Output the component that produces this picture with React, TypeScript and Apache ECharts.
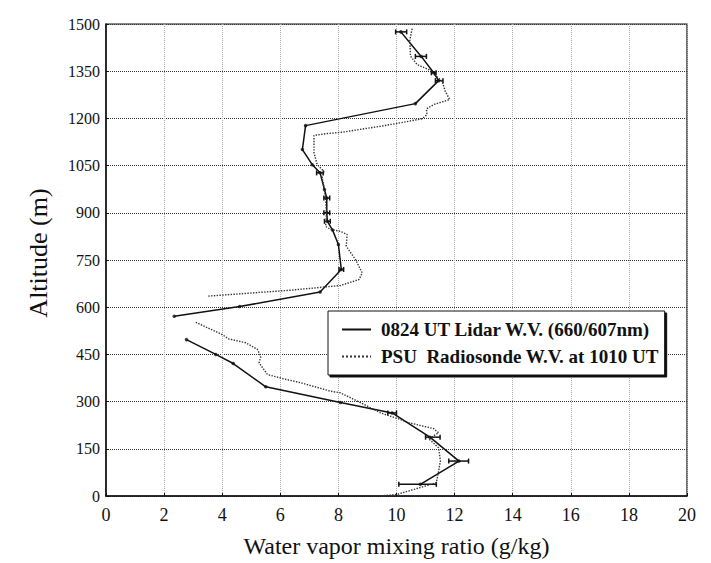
import React, { useEffect, useRef } from "react";
import * as echarts from "echarts";

// Lidar water vapour profile: [mixing ratio g/kg, altitude m]
const lidarUpper: number[][] = [
  [10.15, 1475], [10.85, 1397], [11.28, 1345], [11.45, 1320], [10.65, 1247],
  [6.87, 1177], [6.76, 1101], [7.1, 1053], [7.37, 1027], [7.52, 974],
  [7.6, 947], [7.6, 900], [7.62, 873], [7.8, 845], [8.0, 799], [8.1, 720],
  [7.37, 648], [4.6, 602], [2.35, 571],
];
const lidarLower: number[][] = [
  [2.77, 497], [3.78, 450], [4.38, 421], [5.5, 347], [8.07, 297],
  [9.85, 264], [11.15, 187], [12.15, 111], [10.82, 37],
];
// Lidar error bars: [low, high, altitude]
const lidarErrors: number[][] = [
  [9.97, 10.35, 1475], [10.65, 11.03, 1397], [11.2, 11.36, 1345], [11.34, 11.6, 1320],
  [7.25, 7.48, 1027], [7.5, 7.7, 947], [7.5, 7.7, 900], [7.52, 7.72, 873],
  [8.02, 8.18, 720], [9.7, 10.0, 264], [11.0, 11.5, 187], [11.8, 12.48, 111],
  [10.08, 11.37, 37],
];
// Radiosonde profile: [mixing ratio g/kg, altitude m]
const sondeUpper: number[][] = [
  [10.54, 1485], [10.46, 1451], [10.48, 1398], [10.71, 1371], [11.11, 1355],
  [11.57, 1318], [11.68, 1286], [11.83, 1260], [11.28, 1244], [11.03, 1230],
  [11.05, 1212], [10.88, 1199], [10.14, 1186], [9.45, 1175], [8.88, 1167],
  [8.13, 1156], [7.62, 1152], [7.16, 1146], [7.16, 1091], [7.27, 1053],
  [7.5, 1032], [7.44, 1011], [7.5, 984], [7.56, 942], [7.59, 900],
  [7.56, 857], [7.73, 847], [8.07, 841], [8.3, 831], [8.27, 794],
  [8.47, 767], [8.59, 751], [8.82, 709], [8.71, 688], [8.07, 669],
  [6.36, 654], [3.49, 635],
];
const sondeLower: number[][] = [
  [3.09, 552], [4.0, 513], [4.23, 499], [4.81, 487], [5.21, 466],
  [5.33, 444], [5.27, 423], [5.56, 386], [6.13, 372], [6.7, 360],
  [7.73, 333], [8.07, 328], [8.88, 291], [9.45, 264], [10.14, 243],
  [10.42, 233], [11.28, 214], [11.45, 201], [11.11, 182], [11.45, 153],
  [11.51, 111], [11.45, 79], [11.37, 42], [10.02, 5], [9.45, 0],
];

const LIDAR_NAME = "0824 UT Lidar W.V. (660/607nm)";
const SONDE_NAME = "PSU  Radiosonde W.V. at 1010 UT";
const FONT = "Liberation Serif";

export default function App() {
  const ref = useRef<HTMLDivElement>(null);
  useEffect(() => {
    if (!ref.current) return;
    const chart = echarts.init(ref.current, undefined, { renderer: "svg" });
    const lidarLine = { color: "#111", width: 1.5, type: "solid" as const };
    const sondeLine = { color: "#333", width: 1.4, type: "dotted" as const };
    chart.setOption({
      animation: false,
      backgroundColor: "#fff",
      grid: {
        left: 106, right: 24, top: 24, bottom: 67,
        show: true, borderColor: "#111", borderWidth: 1.2,
      },
      legend: {
        left: 328, top: 311, orient: "vertical",
        data: [LIDAR_NAME, SONDE_NAME],
        itemWidth: 29, itemHeight: 14, itemGap: 8,
        padding: [9, 6, 9, 13],
        borderColor: "#111", borderWidth: 1, backgroundColor: "#fff",
        shadowColor: "#111", shadowOffsetX: 2, shadowOffsetY: 2, shadowBlur: 0,
        selectedMode: false,
        itemStyle: { opacity: 0 },
        textStyle: {
          fontFamily: FONT, fontSize: 19, fontWeight: "bold", color: "#111",
          padding: [0, 0, 0, 5],
        },
      },
      xAxis: {
        type: "value", min: 0, max: 20, interval: 2,
        name: "Water vapor mixing ratio (g/kg)",
        nameLocation: "middle", nameGap: 38,
        nameTextStyle: { fontFamily: FONT, fontSize: 24, color: "#111" },
        axisLine: { lineStyle: { color: "#111", width: 1.5 } },
        axisTick: { inside: true, length: 3, lineStyle: { color: "#111" } },
        axisLabel: { fontFamily: FONT, fontSize: 18, color: "#111", margin: 10 },
        splitLine: { show: true, lineStyle: { color: "#aaa", type: "dotted", width: 1 } },
      },
      yAxis: {
        type: "value", min: 0, max: 1500, interval: 150,
        name: "Altitude (m)",
        nameLocation: "middle", nameGap: 55,
        nameTextStyle: { fontFamily: FONT, fontSize: 26, color: "#111", padding: [0, 0, 0, 14] },
        axisLine: { lineStyle: { color: "#111", width: 1.5 } },
        axisTick: { inside: true, length: 3, lineStyle: { color: "#111" } },
        axisLabel: {
          fontFamily: FONT, fontSize: 16, color: "#111", margin: 6,
          padding: [0, 0, 10, 0],
          formatter: (v: number) => String(v),
        },
        splitLine: { show: true, lineStyle: { color: "#333", type: "dotted", width: 1 } },
      },
      series: [
        { name: LIDAR_NAME, type: "line", data: lidarUpper, symbol: "none", lineStyle: lidarLine, itemStyle: { color: "#111" } },
        { name: LIDAR_NAME, type: "line", data: lidarLower, symbol: "none", lineStyle: lidarLine, itemStyle: { color: "#111" } },
        { name: SONDE_NAME, type: "line", data: sondeUpper, symbol: "none", lineStyle: sondeLine, itemStyle: { color: "#333" } },
        { name: SONDE_NAME, type: "line", data: sondeLower, symbol: "none", lineStyle: sondeLine, itemStyle: { color: "#333" } },
        {
          name: "lidar points", type: "scatter",
          data: [...lidarUpper, ...lidarLower],
          symbolSize: 3.5, itemStyle: { color: "#111" },
        },
        {
          name: "lidar errors", type: "custom",
          data: lidarErrors,
          encode: { x: [0, 1], y: 2 },
          renderItem: (params: any, api: any) => {
            const y = api.value(2);
            const p1 = api.coord([api.value(0), y]);
            const p2 = api.coord([api.value(1), y]);
            const st = { stroke: "#111", lineWidth: 1.5 };
            return {
              type: "group",
              children: [
                { type: "line", shape: { x1: p1[0], y1: p1[1], x2: p2[0], y2: p2[1] }, style: st },
                { type: "line", shape: { x1: p1[0], y1: p1[1] - 2.5, x2: p1[0], y2: p1[1] + 2.5 }, style: st },
                { type: "line", shape: { x1: p2[0], y1: p2[1] - 2.5, x2: p2[0], y2: p2[1] + 2.5 }, style: st },
              ],
            };
          },
        },
      ],
    });
    return () => chart.dispose();
  }, []);
  return <div ref={ref} style={{ width: 711, height: 563, position: "absolute", left: 0, top: 0 }} />;
}
